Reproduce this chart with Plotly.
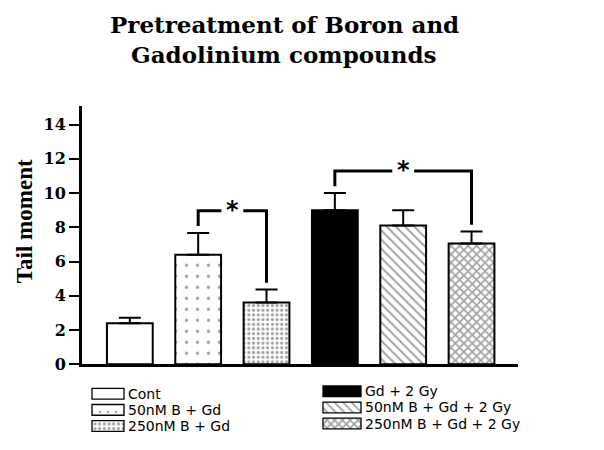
import plotly.graph_objects as go

# ---------------- data ----------------
categories = ["Cont", "50nM B + Gd", "250nM B + Gd",
              "Gd + 2 Gy", "50nM B + Gd + 2 Gy", "250nM B + Gd + 2 Gy"]
tail_moment = [2.4, 6.4, 3.6, 9.0, 8.1, 7.05]
sem = [0.32, 1.27, 0.76, 1.0, 0.9, 0.7]
y_ticks = [0, 2, 4, 6, 8, 10, 12, 14]
sig_pairs = [(1, 2), (3, 5)]
sig_levels = [8.97, 11.29]
sig_label = "*"
title_lines = ["Pretreatment of Boron and", "Gadolinium compounds"]
y_title = "Tail moment"

# ---------------- styles ----------------
fill = ["white", "white", "white", "black", "white", "white"]
p_shape = ["", ".", ".", "", "\\", "x"]
p_size = [8, 11, 4.7, 8, 6.5, 6]
p_solid = [0.3, 0.07, 0.34, 0.3, 0.3, 0.5]

# horizontal page offset of the figure inside the window
OFFX, OFFY = 8, 0
W, H = 604 - OFFX, 450 - OFFY
def px(x):
    return (x - OFFX) / W
def py(y):
    return 1 - (y - OFFY) / H

x_idx = list(range(len(categories)))

fig = go.Figure()

fig.add_trace(go.Bar(
    x=x_idx, y=tail_moment, width=0.67,
    marker=dict(color=fill, line=dict(color="black", width=2),
                pattern=dict(shape=p_shape, size=p_size, solidity=p_solid,
                             fgcolor="black", bgcolor=fill)),
    error_y=dict(type="data", array=sem, arrayminus=[0] * len(sem),
                 symmetric=False, color="black", thickness=2, width=11),
    xaxis="x", yaxis="y", showlegend=False, hoverinfo="skip",
))

# ---------------- significance brackets ----------------
gap = 0.16
foot = 0.4
for (i, j), lev in zip(sig_pairs, sig_levels):
    yl = tail_moment[i] + sem[i] + foot
    yr = tail_moment[j] + sem[j] + foot
    xm = (i + j) / 2
    path = (f"M {i},{yl} L {i},{lev} L {xm - gap},{lev} "
            f"M {xm + gap},{lev} L {j},{lev} L {j},{yr}")
    fig.add_shape(type="path", path=path, xref="x", yref="y",
                  line=dict(color="black", width=3))
    fig.add_annotation(x=xm, y=lev, xref="x", yref="y", text=f"<b>{sig_label}</b>",
                       showarrow=False, yanchor="middle", yshift=1,
                       font=dict(family="DejaVu Sans", size=24, color="black"))

# ---------------- custom legend (patterned swatches) ----------------
sw_left = [92, 92, 92, 323, 323, 323]
sw_w = [32, 32, 32, 38, 38, 38]
sw_y = [394.5, 411, 427.5, 392, 408.5, 425]
leg_size = [8, 8, 4.7, 8, 6, 5.5]
fig.add_trace(go.Bar(
    x=sw_w, base=[l - OFFX for l in sw_left], y=[y - OFFY for y in sw_y],
    width=[11] * 6, orientation="h",
    marker=dict(color=fill, line=dict(color="black", width=1.3),
                pattern=dict(shape=p_shape, size=leg_size, solidity=p_solid,
                             fgcolor="black", bgcolor=fill)),
    xaxis="x2", yaxis="y2", showlegend=False, hoverinfo="skip",
))
for name, l, w, y in zip(categories, sw_left, sw_w, sw_y):
    fig.add_annotation(x=px(l + w + 3), y=py(y), xref="paper", yref="paper",
                       text=name, showarrow=False, xanchor="left", yanchor="middle",
                       borderpad=0,
                       font=dict(family="DejaVu Sans", size=14, color="black"))

# ---------------- titles ----------------
for line, yc in zip(title_lines, [17, 48]):
    fig.add_annotation(x=px(284), y=py(yc), xref="paper", yref="paper",
                       text=f"<b>{line}</b>", showarrow=False,
                       xanchor="center", yanchor="middle",
                       font=dict(family="DejaVu Serif", size=23, color="black"))
fig.add_annotation(x=px(24), y=py(218), xref="paper", yref="paper",
                   text=f"<b>{y_title}</b>", showarrow=False, textangle=-90,
                   xanchor="center", yanchor="middle",
                   font=dict(family="Liberation Serif", size=23, color="black"))

fig.update_layout(
    width=W, height=H,
    margin=dict(l=0, r=0, t=0, b=0),
    paper_bgcolor="white", plot_bgcolor="rgba(0,0,0,0)",
    barmode="overlay",
    xaxis=dict(domain=[px(82), px(518)], range=[-0.7, 5.68], anchor="y",
               showticklabels=False, ticks="", showgrid=False, zeroline=False,
               showline=True, linecolor="black", linewidth=3),
    yaxis=dict(domain=[py(364.3), py(100)], range=[0, 15.1], anchor="x",
               tickvals=y_ticks, ticks="outside", ticklen=10, tickwidth=2,
               tickcolor="black", showgrid=False, zeroline=False,
               showline=True, linecolor="black", linewidth=3,
               tickfont=dict(family="DejaVu Serif", size=16, color="black",
                             weight="bold")),
    xaxis2=dict(domain=[0, 1], range=[0, W], anchor="y2", visible=False),
    yaxis2=dict(domain=[0, 1], range=[H, 0], anchor="x2", visible=False),
)

fig.write_html("out.html")
